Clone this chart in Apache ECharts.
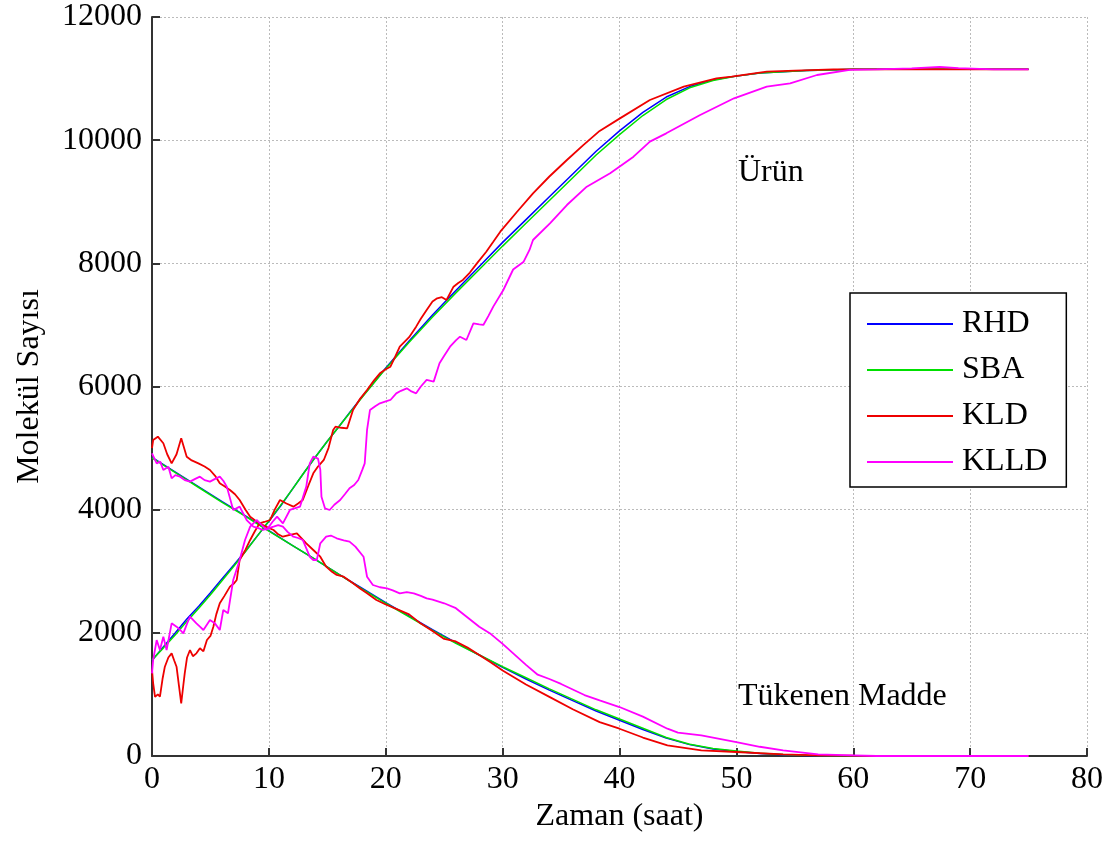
<!DOCTYPE html>
<html>
<head>
<meta charset="utf-8">
<title>Molekül Sayısı</title>
<script src="https://cdn.jsdelivr.net/npm/echarts@6/dist/echarts.min.js"></script>
<style>
  html, body { margin: 0; padding: 0; background: #fff; }
  #main { width: 1112px; height: 843px; }
</style>
</head>
<body>
<div id="main"></div>
<script>
// [saat, molekül sayısı] pairs
var rhdUrun = [[0,1550],[1,1780],[2,2000],[3,2230],[4,2430],[5,2650],[6,2880],[7,3100],[8,3330],[9,3570],[10,3810],[11,4060],[12,4330],[13,4600],[14,4860],[15,5110],[16,5350],[17,5600],[18,5840],[19,6070],[20,6300],[22,6740],[24,7160],[26,7560],[28,7950],[30,8340],[32,8710],[34,9080],[36,9450],[38,9820],[40,10150],[42,10450],[44,10700],[46,10870],[48,10980],[50,11040],[52,11090],[54,11110],[56,11130],[58,11140],[60,11150],[65,11150],[70,11150],[75,11150]];
var sbaUrun = [[0,1560],[1,1760],[2,1970],[3,2190],[4,2400],[5,2620],[6,2850],[7,3080],[8,3320],[9,3570],[10,3820],[11,4070],[12,4330],[13,4600],[14,4860],[15,5110],[16,5350],[17,5590],[18,5830],[19,6060],[20,6290],[22,6720],[24,7130],[26,7520],[28,7900],[30,8280],[32,8650],[34,9020],[36,9390],[38,9760],[40,10090],[42,10400],[44,10660],[46,10850],[48,10970],[50,11040],[52,11090],[54,11110],[56,11130],[58,11140],[60,11150],[65,11150],[70,11150],[75,11150]];
var rhdMadde = [[0,4850],[2,4610],[4,4370],[6,4130],[8,3900],[10,3660],[12,3420],[14,3190],[16,2950],[18,2720],[20,2490],[22,2270],[24,2050],[26,1840],[28,1640],[30,1440],[32,1250],[34,1070],[36,900],[38,730],[40,580],[42,430],[44,290],[46,185],[48,115],[50,75],[52,42],[54,22],[56,10],[58,4],[60,0],[75,0]];
var sbaMadde = [[0,4840],[2,4600],[4,4360],[6,4120],[8,3890],[10,3650],[12,3420],[14,3190],[16,2950],[18,2710],[20,2480],[22,2260],[24,2040],[26,1830],[28,1640],[30,1450],[32,1270],[34,1090],[36,920],[38,750],[40,600],[42,450],[44,300],[46,190],[48,120],[50,80],[52,45],[54,25],[56,12],[58,5],[60,0],[75,0]];
var kldUrun = [[0,1400],[0.1,1180],[0.26,960],[0.5,1000],[0.68,963],[0.9,1250],[1.1,1450],[1.4,1600],[1.68,1667],[1.9,1550],[2.1,1450],[2.3,1150],[2.5,855],[2.65,1100],[2.8,1342],[3,1600],[3.25,1721],[3.5,1620],[3.8,1667],[4.1,1750],[4.4,1700],[4.7,1883],[5,1950],[5.25,2100],[5.5,2300],[5.8,2479],[6.2,2600],[6.67,2750],[7,2800],[7.25,2858],[7.5,3183],[8,3350],[8.4,3508],[8.8,3650],[9.2,3778],[9.6,3800],[10.1,3832],[10.5,4000],[10.95,4157],[11.5,4100],[12.1,4049],[12.5,4100],[12.9,4157],[13.4,4400],[13.8,4590],[14.2,4700],[14.7,4807],[15.1,5000],[15.5,5294],[15.7,5348],[16.2,5330],[16.7,5321],[17.2,5618],[17.8,5800],[18.4,5943],[19,6100],[19.5,6214],[20,6280],[20.4,6322],[20.8,6480],[21.2,6647],[22,6800],[22.6,6972],[23,7100],[23.5,7243],[24,7380],[24.4,7432],[24.8,7450],[25.2,7405],[25.8,7621],[26.2,7680],[26.6,7730],[27.2,7850],[27.8,8000],[28.6,8189],[29.2,8350],[29.8,8514],[31.2,8830],[32.6,9137],[34,9410],[35.5,9678],[36.9,9920],[38.3,10150],[40,10350],[42.6,10652],[45.5,10869],[48.3,11004],[49.6,11031],[52.6,11112],[55,11130],[58.3,11150],[62,11150],[66,11155],[70,11150],[75,11150]];
var kldMadde = [[0,5000],[0.1,5131],[0.5,5185],[0.97,5078],[1.3,4900],[1.68,4752],[2.1,4900],[2.5,5158],[2.97,4860],[3.4,4800],[3.97,4752],[4.5,4700],[4.96,4644],[5.4,4550],[5.8,4428],[6.2,4380],[6.67,4320],[7.1,4250],[7.5,4157],[8,4000],[8.4,3886],[8.8,3830],[9.2,3778],[9.8,3720],[10.4,3670],[10.8,3600],[11.2,3561],[11.8,3590],[12.4,3616],[13.2,3454],[13.8,3345],[14.4,3236],[14.9,3074],[15.4,2990],[15.8,2940],[16.4,2912],[17.2,2804],[17.8,2720],[18.4,2642],[19.2,2533],[20,2460],[21,2380],[22,2300],[23,2150],[24,2030],[25,1900],[26,1860],[27,1760],[28,1640],[29,1520],[30,1390],[32,1160],[34,960],[36,760],[38.3,551],[40,443],[42,300],[44.1,173],[47,92],[50,65],[54,27],[57,10],[60,5],[65,0],[75,0]];
var klldUrun = [[0,1342],[0.1,1559],[0.4,1883],[0.68,1721],[0.97,1937],[1.25,1721],[1.68,2154],[2.1,2100],[2.4,2050],[2.68,1992],[3,2150],[3.25,2262],[3.8,2154],[4.1,2100],[4.4,2046],[4.96,2208],[5.4,2150],[5.8,2046],[6.1,2371],[6.5,2317],[6.95,2858],[7.5,3183],[7.96,3508],[8.4,3724],[8.95,3832],[9.4,3750],[9.8,3670],[10.3,3800],[10.7,3886],[11.2,3778],[11.8,3995],[12.2,4020],[12.66,4049],[13.2,4374],[13.5,4752],[13.8,4861],[14.2,4830],[14.4,4650],[14.5,4211],[14.8,4022],[15.2,3995],[15.6,4080],[16.1,4157],[16.5,4250],[16.9,4347],[17.3,4400],[17.65,4482],[18,4650],[18.2,4752],[18.4,5294],[18.65,5618],[19.1,5680],[19.5,5727],[20,5760],[20.4,5781],[20.9,5889],[21.3,5930],[21.8,5970],[22.2,5920],[22.6,5889],[23,6000],[23.5,6106],[24.1,6079],[24.6,6377],[25,6500],[25.5,6647],[26,6750],[26.35,6809],[26.9,6755],[27.5,7026],[28,7010],[28.35,6999],[28.8,7150],[29.2,7297],[30.06,7567],[30.9,7900],[31.8,8027],[32.3,8217],[32.6,8379],[34.05,8650],[35.5,8947],[37.2,9245],[39.2,9462],[41.2,9732],[42.6,9976],[44,10111],[46.9,10409],[49.8,10680],[52.6,10869],[54.6,10923],[56.9,11058],[59.7,11140],[62,11150],[65,11165],[67.4,11190],[69,11170],[72,11150],[75,11150]];
var klldMadde = [[0,4915],[0.4,4752],[0.7,4780],[0.97,4644],[1.4,4698],[1.68,4509],[2,4560],[2.4,4536],[2.8,4480],[3.25,4455],[3.7,4500],[4.1,4536],[4.5,4480],[4.96,4455],[5.4,4500],[5.8,4536],[6.1,4470],[6.4,4374],[6.95,3995],[7.5,4049],[8.1,3832],[8.67,3724],[9.1,3700],[9.5,3670],[10,3700],[10.4,3724],[10.8,3750],[11.2,3724],[11.6,3640],[12.1,3561],[12.5,3540],[12.9,3508],[13.5,3236],[13.8,3183],[14.1,3183],[14.4,3454],[14.9,3561],[15.3,3580],[15.8,3535],[16.4,3500],[16.9,3480],[17.4,3399],[18.1,3236],[18.4,2911],[18.9,2777],[19.5,2740],[20.1,2723],[20.6,2690],[21.2,2642],[21.8,2660],[22.4,2642],[23,2600],[23.5,2560],[24,2540],[25,2480],[26,2400],[27,2250],[28,2100],[29,1980],[30,1820],[31,1650],[32,1480],[33,1320],[34,1250],[35,1170],[36,1080],[37,990],[38.3,903],[40,795],[42,640],[44.1,443],[45,380],[47,335],[50,227],[52,150],[54,92],[57,27],[60,10],[62,0],[75,0]];

var yontemler = ['RHD', 'SBA', 'KLD', 'KLLD'];
var renkler = ['#0000ff', '#00e000', '#ee0000', '#ff00ff'];
var cizgiKalinligi = [1.5, 1.5, 1.8, 1.8];
var urunSerileri = [rhdUrun, sbaUrun, kldUrun, klldUrun];
var maddeSerileri = [rhdMadde, sbaMadde, kldMadde, klldMadde];

var yazi = '"Liberation Serif", "Times New Roman", serif';

var myChart = echarts.init(document.getElementById('main'));

var series = [];
for (var i = 0; i < yontemler.length; i++) {
    [urunSerileri[i], maddeSerileri[i]].forEach(function (d) {
        series.push({
            name: yontemler[i],
            type: 'line',
            data: d,
            showSymbol: false,
            symbol: 'none',
            color: renkler[i],
            lineStyle: { width: cizgiKalinligi[i], color: renkler[i] },
            z: 2 + i
        });
    });
}

function duzSayi(v) { return String(v); }

var option = {
    animation: false,
    backgroundColor: '#fff',
    grid: { left: 152, right: 25, top: 17, bottom: 87 },
    xAxis: {
        type: 'value',
        min: 0, max: 80, interval: 10,
        name: 'Zaman (saat)',
        nameLocation: 'middle',
        nameGap: 38,
        nameTextStyle: { fontFamily: yazi, fontSize: 32, color: '#000' },
        axisLine: { lineStyle: { color: '#333', width: 2 } },
        axisTick: { inside: true, length: 8, lineStyle: { color: '#333', width: 2 } },
        axisLabel: { fontFamily: yazi, fontSize: 32, color: '#000', margin: 8, formatter: duzSayi },
        splitLine: { show: true, lineStyle: { color: '#bbb', width: 1, type: [2, 2] } }
    },
    yAxis: {
        type: 'value',
        min: 0, max: 12000, interval: 2000,
        name: 'Molekül Sayısı',
        nameLocation: 'middle',
        nameGap: 106,
        nameTextStyle: { fontFamily: yazi, fontSize: 32, color: '#000' },
        axisLine: { show: true, lineStyle: { color: '#333', width: 2 } },
        axisTick: { show: true, inside: true, length: 8, lineStyle: { color: '#333', width: 2 } },
        axisLabel: { fontFamily: yazi, fontSize: 32, color: '#000', margin: 10, formatter: duzSayi },
        splitLine: { show: true, lineStyle: { color: '#bbb', width: 1, type: [2, 2] } }
    },
    legend: {
        data: yontemler,
        orient: 'vertical',
        left: 850,
        top: 293,
        icon: 'rect',
        itemWidth: 86,
        itemHeight: 2,
        itemGap: 14,
        padding: [15, 19, 9, 17],
        borderColor: '#000',
        borderWidth: 1.5,
        backgroundColor: '#fff',
        textStyle: { fontFamily: yazi, fontSize: 32, lineHeight: 32, color: '#000', padding: [0, 0, 0, 4] }
    },
    graphic: [
        { type: 'text', x: 738, y: 173, z: 100,
          style: { text: 'Ürün', font: '32px ' + yazi, fill: '#000', align: 'left', verticalAlign: 'middle' } },
        { type: 'text', x: 738, y: 697, z: 100,
          style: { text: 'Tükenen Madde', font: '32px ' + yazi, fill: '#000', align: 'left', verticalAlign: 'middle' } }
    ],
    series: series
};

myChart.setOption(option);
</script>
</body>
</html>
